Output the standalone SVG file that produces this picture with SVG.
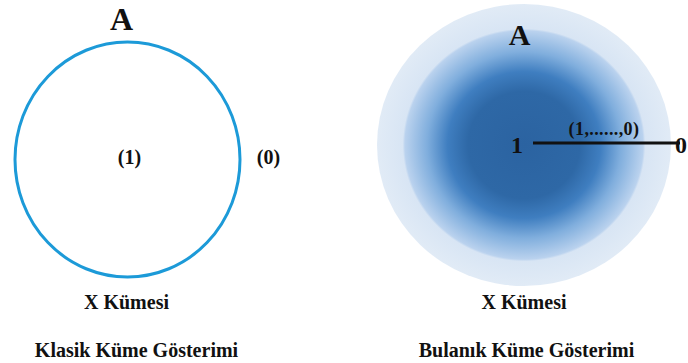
<svg xmlns="http://www.w3.org/2000/svg" width="688" height="363" viewBox="0 0 688 363">
<style>
text{font-family:"Liberation Serif","DejaVu Serif",serif;font-weight:bold;fill:#111;text-anchor:middle}
.lbl{font-size:20px}
</style>
<defs>
<radialGradient id="fuzzy" cx="0.5" cy="0.5" r="0.5">
<stop offset="0" stop-color="#2b63a1"/>
<stop offset="0.38" stop-color="#2e68a6"/>
<stop offset="0.52" stop-color="#3f7ec0"/>
<stop offset="0.66" stop-color="#80aedd"/>
<stop offset="0.81" stop-color="#bad2ee"/>
<stop offset="0.825" stop-color="#d8e5f4"/>
<stop offset="1" stop-color="#e1ebf6"/>
</radialGradient>
</defs>
<rect width="688" height="363" fill="#ffffff"/>
<g id="classic-set">
<ellipse cx="127.5" cy="159.5" rx="112.5" ry="117.5" fill="none" stroke="#1c9ad8" stroke-width="3"/>
<text x="121.5" y="30" font-size="32">A</text>
<text class="lbl" x="129.5" y="164">(1)</text>
<text class="lbl" x="268.5" y="164">(0)</text>
</g>
<g id="fuzzy-set">
<ellipse cx="524" cy="145" rx="147" ry="141" fill="url(#fuzzy)"/>
<text x="519.5" y="45" font-size="30">A</text>
<text x="517" y="153" font-size="24">1</text>
<text x="604" y="135" font-size="18" letter-spacing="0.4">(1,......,0)</text>
<text x="681" y="153" font-size="24" text-anchor="start">0</text>
</g>
<g id="connectors">
<line x1="533" y1="143" x2="680" y2="143" stroke="#111" stroke-width="3"/>
</g>
<g id="captions">
<text class="lbl" x="126.5" y="309">X Kümesi</text>
<text class="lbl" x="136.5" y="357">Klasik Küme Gösterimi</text>
<text class="lbl" x="524" y="309">X Kümesi</text>
<text class="lbl" x="526.5" y="357">Bulanık Küme Gösterimi</text>
</g>
</svg>
